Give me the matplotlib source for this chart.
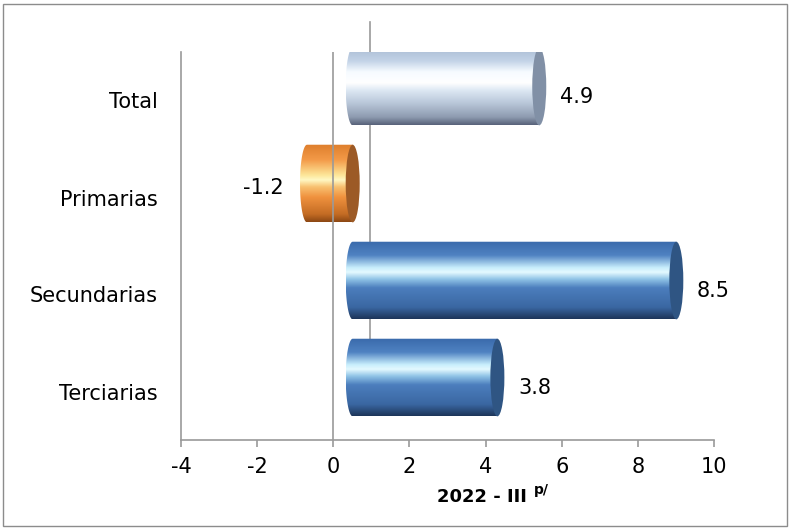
import numpy as np
import matplotlib.pyplot as plt
from matplotlib.patches import Polygon, Ellipse, Rectangle

plt.rcParams['font.family'] = ['DejaVu Sans']
plt.rcParams['axes.unicode_minus'] = False

# Data
categories = ['Terciarias', 'Secundarias', 'Primarias', 'Total']
values = [3.8, 8.5, -1.2, 4.9]
labels = ['3.8', '8.5', '-1.2', '4.9']
styles = ['blue', 'blue', 'orange', 'grey']

# gradient stops, top to bottom
stops = {
    'blue': [(0.0, '#3a6aab'), (0.18, '#4f82c2'), (0.34, '#c8eefc'), (0.40, '#e4f9ff'),
             (0.49, '#8fc3e6'), (0.60, '#4c7ebd'), (0.85, '#3a67a2'), (1.0, '#1d3559')],
    'orange': [(0.0, '#de7e2c'), (0.2, '#f39a48'), (0.40, '#fde79a'), (0.46, '#fff8c4'),
               (0.55, '#f8c070'), (0.68, '#f0923e'), (0.9, '#c46c24'), (1.0, '#8c4814')],
    'grey': [(0.0, '#a9bbd3'), (0.18, '#c3d3e7'), (0.32, '#f6fbff'), (0.46, '#ffffff'),
             (0.56, '#dce7f3'), (0.72, '#b9c7d9'), (0.9, '#8e9bb0'), (1.0, '#58627a')],
}
caps = {'blue': '#2f5583', 'orange': '#9c5a26', 'grey': '#8190a6'}


def gradient(name, n=200):
    pos = np.array([p for p, c in stops[name]])
    cols = np.array([plt.matplotlib.colors.to_rgb(c) for p, c in stops[name]])
    t = np.linspace(0, 1, n)
    img = np.stack([np.interp(t, pos, cols[:, k]) for k in range(3)], axis=1)
    return img[:, None, :]


fig = plt.figure(figsize=(7.91, 5.29), dpi=100)
ax = fig.add_axes([181 / 791, 89 / 529, 533 / 791, 388 / 529])

shift_x = 0.51   # 3d depth offset
shift_y = 0.144
h = 0.80
a = 0.184        # half width of cylinder end

axis_col = '#9a9a9a'
# back wall zero line
ax.plot([0.97, 0.97], [0.4, 3.81], color=axis_col, lw=1.2, zorder=1, clip_on=False)

for i, (v, st) in enumerate(zip(values, styles)):
    yc = i + shift_y
    x0 = min(0, v) + shift_x
    x1 = max(0, v) + shift_x
    t = np.linspace(np.pi / 2, 3 * np.pi / 2, 60)
    pts = [(x1, yc + h / 2), (x1, yc - h / 2)] + \
        [(x0 + a * np.cos(tt), yc + h / 2 * np.sin(tt)) for tt in t[::-1]]
    clip = Polygon(pts, closed=True, transform=ax.transData)
    im = ax.imshow(gradient(st), extent=[x0 - a, x1, yc - h / 2, yc + h / 2],
                   aspect='auto', zorder=2, interpolation='bilinear')
    im.set_clip_path(clip)
    ax.add_patch(Ellipse((x1, yc), 2 * a, h, facecolor=caps[st], edgecolor='none', zorder=3))

    if v >= 0:
        ax.annotate(labels[i], (v, i), xytext=(40, 3.5), textcoords='offset pixels',
                    ha='left', va='center', fontsize=15, color='black')
    else:
        ax.annotate(labels[i], (v, i), xytext=(-4, 9.5), textcoords='offset pixels',
                    ha='right', va='center', fontsize=15, color='black')

# front zero line
ax.axvline(0, color=axis_col, lw=1.2, zorder=4)

ax.set_xlim(-4, 10)
ax.set_ylim(-0.5, 3.5)
ax.set_xticks(np.arange(-4, 11, 2))
ax.set_yticks(range(len(categories)))
ax.set_yticklabels(categories)
ax.tick_params(axis='y', length=0, pad=17, labelsize=15)
ax.tick_params(axis='x', length=5, width=1.2, color=axis_col, direction='out', pad=7, labelsize=15)
for s in ['top', 'right']:
    ax.spines[s].set_visible(False)
for s in ['left', 'bottom']:
    ax.spines[s].set_color(axis_col)
    ax.spines[s].set_linewidth(1.2)

fig.text(527 / 791, 1 - 497 / 529, '2022 - III', ha='right', va='center',
         fontsize=13, fontweight='bold')
fig.text(534 / 791, 1 - 490 / 529, 'p/', ha='left', va='center',
         fontsize=10, fontweight='bold')

fig.patches.append(Rectangle((3 / 791, 3 / 529), 784 / 791, 522 / 529, transform=fig.transFigure,
                             fill=False, edgecolor='#8c8c8c', lw=1))

plt.savefig('out.png', dpi=100)
